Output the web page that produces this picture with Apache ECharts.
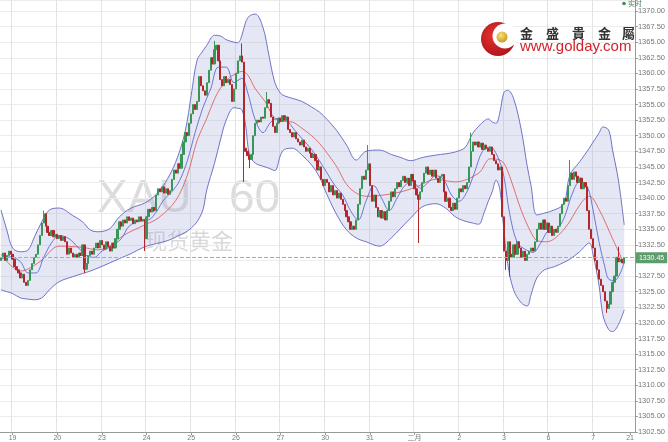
<!DOCTYPE html>
<html><head><meta charset="utf-8">
<script src="https://cdn.jsdelivr.net/npm/echarts@6/dist/echarts.min.js"></script>
<style>html,body{margin:0;padding:0;background:#fff}#c{width:668px;height:442px}</style>
</head><body><div id="c"></div>
<script>
// ---- data ----
const dayLabels = ['19','20','23','24','25','26','27','30','31','二月','2','3','6','7'];
const firstLabelSlot = 6, slotsPerDay = 23, totalSlots = 327;
const tailLabel = {slot: 324, text: '21'};
const yTicks = {min: 1302.5, max: 1371.76, step: 2.5};
const firstOpen = 1330.0;
const closes = [
1330.5,1331.2,1330.0,1330.8,1331.5,1331.0,1330.2,1329.0,1328.5,1328.0,
1327.2,1327.8,1326.5,1326.0,1326.8,1328.5,1329.5,1330.5,1331.0,1332.5,
1334.0,1336.0,1337.5,1335.5,1334.5,1334.0,1334.8,1333.8,1334.2,1333.5,
1334.0,1333.2,1333.8,1333.0,1331.0,1332.0,1331.2,1330.5,1331.0,1330.5,
1331.2,1330.8,1332.5,1328.6,1329.5,1330.8,1331.5,1331.0,1332.0,1332.8,
1332.0,1333.2,1332.5,1331.8,1333.0,1332.2,1331.5,1332.8,1332.0,1333.5,
1335.0,1336.2,1335.5,1336.5,1336.0,1337.0,1336.4,1336.8,1335.9,1336.5,
1336.2,1337.0,1336.3,1336.6,1333.5,1337.0,1338.2,1337.8,1338.5,1338.0,
1340.5,1341.5,1341.0,1341.8,1340.8,1341.5,1340.6,1341.2,1343.0,1344.5,
1344.0,1345.5,1344.8,1347.0,1349.0,1350.5,1350.0,1352.0,1353.5,1355.0,
1354.2,1355.5,1359.5,1358.0,1357.2,1356.5,1358.5,1360.5,1362.5,1361.5,
1363.8,1364.5,1362.0,1359.0,1358.0,1359.5,1358.5,1359.0,1358.2,1355.5,
1357.5,1360.0,1362.0,1362.8,1361.8,1348.0,1347.5,1346.8,1346.2,1347.0,
1350.0,1352.0,1352.5,1352.2,1353.0,1352.8,1354.5,1355.8,1355.2,1353.0,
1351.5,1350.5,1352.0,1352.8,1352.3,1353.2,1352.5,1353.0,1351.0,1350.5,
1349.8,1350.5,1349.5,1349.0,1348.5,1349.3,1348.2,1347.5,1348.0,1347.2,
1346.5,1347.0,1346.0,1344.5,1345.0,1343.0,1342.0,1343.0,1342.5,1341.0,
1342.0,1340.5,1341.2,1340.0,1340.8,1339.8,1339.0,1338.0,1337.0,1336.2,
1335.0,1335.5,1335.0,1336.5,1339.0,1341.5,1343.5,1343.0,1344.5,1345.5,
1342.0,1339.5,1340.5,1338.5,1337.0,1338.0,1336.8,1337.8,1336.5,1338.0,
1339.5,1341.0,1340.2,1341.5,1342.5,1341.8,1342.8,1343.5,1342.5,1343.2,
1342.0,1343.8,1342.8,1341.5,1340.5,1339.8,1341.0,1342.5,1344.0,1345.0,
1343.8,1344.5,1343.5,1344.5,1343.2,1342.5,1343.5,1343.8,1341.0,1339.5,
1340.0,1338.5,1338.0,1339.2,1338.2,1340.0,1341.5,1341.0,1342.0,1341.5,
1342.5,1345.0,1347.5,1349.0,1348.5,1349.0,1348.2,1348.8,1347.8,1348.5,
1348.0,1347.5,1348.2,1347.0,1346.0,1345.5,1344.5,1345.0,1337.0,1331.5,
1330.0,1333.0,1331.0,1330.5,1332.5,1331.0,1333.0,1332.0,1330.5,1331.5,
1330.0,1331.0,1331.5,1332.0,1331.5,1333.0,1335.0,1336.0,1335.0,1336.5,
1335.0,1336.0,1334.5,1335.5,1334.0,1335.0,1334.5,1335.5,1337.5,1339.0,
1340.0,1339.5,1342.0,1344.0,1343.0,1344.2,1343.5,1342.5,1343.2,1341.5,
1342.5,1341.8,1338.0,1335.0,1333.5,1332.0,1330.0,1328.5,1327.0,1326.0,
1325.0,1323.5,1322.3,1323.0,1325.0,1326.5,1327.5,1330.5,1329.8,1330.2,
1329.6,1330.45];
const wickLows = [[43,1328.0],[74,1331.5],[125,1342.6],[128,1344.8],[215,1332.8],[260,1328.5],[262,1327.4],[312,1321.6]];
const wickHighs = [[22,1338.0],[110,1365.2],[124,1364.8],[137,1357.0],[189,1348.5],[242,1350.5],[293,1346.1],[318,1332.2]];
// Bollinger upper / lower read at the same slots
const bandSlots = [0,3,6,10,14,17,21,25,30,37,42,46,50,56,61,67,74,80,86,91,95,98,101,104,106,110,113,116,120,122,124,126,128,131,135,138,141,144,146,150,155,160,164,168,173,178,183,188,195,201,206,211,217,224,229,234,239,243,246,249,251,253,255,257,259,261,264,268,271,273,276,280,285,290,293,298,303,305,308,310,313,315,318,321];
const upperBand = [1338.1,1334.9,1332.0,1331.4,1331.7,1333.6,1336.2,1338.1,1338.4,1337.2,1336.2,1334.9,1334.6,1335.1,1337.0,1338.4,1339.2,1340.6,1343.2,1346.6,1350.9,1356.5,1362.1,1363.6,1364.5,1366.1,1366.0,1365.4,1365.0,1364.9,1366.0,1368.2,1369.2,1369.5,1367.3,1362.9,1358.6,1356.8,1356.4,1356.0,1355.5,1354.6,1353.8,1352.6,1350.8,1348.5,1346.1,1347.5,1347.7,1347.0,1346.5,1346.0,1346.5,1346.9,1347.1,1347.4,1348.1,1350.4,1351.5,1352.4,1352.7,1352.2,1352.0,1353.8,1356.9,1357.3,1356.0,1350.9,1345.2,1342.0,1337.3,1337.6,1338.1,1339.1,1343.7,1345.8,1348.0,1349.0,1350.4,1351.4,1350.9,1347.7,1342.9,1335.7];
const lowerBand = [1325.3,1325.0,1324.7,1324.0,1323.8,1323.7,1324.0,1325.3,1326.6,1327.4,1327.9,1328.3,1328.8,1329.6,1330.3,1331.1,1332.2,1332.7,1333.2,1333.9,1334.5,1335.2,1336.2,1338.1,1341.3,1345.6,1349.3,1352.5,1354.5,1354.4,1354.2,1351.7,1346.9,1345.6,1345.1,1344.8,1344.4,1346.9,1347.8,1348.0,1346.9,1345.3,1343.4,1340.5,1337.3,1334.9,1333.6,1333.0,1332.3,1333.6,1335.2,1336.8,1338.6,1339.1,1338.4,1337.0,1336.3,1336.0,1335.8,1337.8,1339.5,1341.0,1342.9,1341.3,1334.9,1329.5,1325.3,1323.2,1322.7,1324.5,1327.2,1328.5,1329.0,1329.7,1330.2,1331.4,1332.8,1330.9,1326.1,1321.3,1318.9,1318.6,1319.7,1322.1];
const midLine = [[0,1331.0],[10,1328.3],[20,1329.8],[30,1332.3],[42,1332.1],[50,1331.7],[57,1332.5],[63,1334.0],[74,1335.7],[81,1336.8],[90,1339.6],[96,1343.7],[101,1349.2],[106,1352.8],[110,1355.9],[113,1357.6],[117,1359.1],[120,1359.8],[124,1360.3],[127,1359.8],[131,1357.5],[136,1355.5],[141,1352.8],[146,1352.3],[150,1352.2],[155,1351.2],[160,1350.0],[164,1348.8],[168,1347.2],[173,1345.0],[178,1342.2],[183,1340.8],[188,1340.3],[195,1340.4],[206,1341.0],[214,1341.8],[224,1343.0],[234,1342.6],[246,1344.0],[252,1346.3],[256,1346.2],[259,1345.6],[262,1343.5],[268,1338.0],[273,1334.5],[276,1333.2],[281,1333.0],[290,1335.0],[299,1339.3],[303,1340.3],[308,1338.2],[315,1333.5],[321,1329.4]];
const fastLine = [[0,1330.2],[5,1330.6],[10,1329.8],[14,1328.0],[18,1328.0],[22,1330.5],[26,1332.8],[30,1334.0],[35,1333.5],[40,1332.0],[44,1330.8],[48,1330.5],[52,1331.5],[57,1332.3],[62,1333.5],[66,1335.5],[72,1336.4],[76,1336.5],[80,1337.8],[84,1339.8],[88,1341.0],[92,1342.8],[96,1346.0],[100,1350.5],[104,1354.5],[108,1357.5],[112,1361.0],[116,1361.0],[120,1358.5],[124,1359.2],[127,1357.0],[131,1352.5],[135,1350.5],[139,1352.2],[143,1352.8],[147,1352.5],[151,1351.0],[156,1349.2],[160,1347.8],[164,1346.0],[168,1344.0],[172,1342.0],[176,1340.5],[180,1338.0],[184,1336.5],[188,1339.5],[192,1342.0],[196,1340.0],[200,1338.0],[204,1340.0],[208,1342.0],[212,1342.6],[216,1341.6],[220,1342.5],[224,1343.6],[228,1343.0],[232,1340.5],[236,1339.5],[240,1341.0],[244,1344.2],[248,1347.5],[252,1348.2],[256,1346.5],[259,1343.5],[262,1337.5],[266,1332.8],[270,1331.8],[274,1331.3],[278,1332.8],[282,1334.8],[286,1335.0],[290,1336.8],[294,1340.5],[298,1342.6],[302,1341.8],[305,1338.0],[308,1333.0],[311,1329.0],[313,1327.0],[316,1326.8],[319,1328.0],[321,1329.8]];

// ---- build ----
const labelMap = {};
dayLabels.forEach((t, k) => { labelMap[firstLabelSlot + k * slotsPerDay] = t; });
const gridSlots = new Set(Object.keys(labelMap).map(Number));
labelMap[tailLabel.slot] = tailLabel.text;
const categories = Array.from({length: totalSlots}, (_, i) => 's' + i);
const lowMap = Object.fromEntries(wickLows), highMap = Object.fromEntries(wickHighs);
const candles = closes.map((c, i) => {
  const o = i ? closes[i - 1] : firstOpen;
  let lo = Math.min(o, c), hi = Math.max(o, c);
  if (lowMap[i] !== undefined) lo = lowMap[i];
  if (highMap[i] !== undefined) hi = highMap[i];
  return [o, c, lo, hi];
});
const lastPrice = closes[closes.length - 1];
const lowerData = bandSlots.map((s, i) => [s, lowerBand[i]]);
const widthData = bandSlots.map((s, i) => [s, +(upperBand[i] - lowerBand[i]).toFixed(2)]);

const FONT = '"Liberation Sans", Arial, "Noto Sans CJK SC", sans-serif';
const chart = echarts.init(document.getElementById('c'));
chart.setOption({
  animation: false,
  backgroundColor: '#fff',
  grid: {left: 0, right: 26, top: 0, bottom: 9},
  xAxis: {
    type: 'category', data: categories, boundaryGap: true,
    axisLine: {lineStyle: {color: '#999'}},
    axisTick: {show: true, alignWithLabel: true, length: 3, lineStyle: {color: '#999'},
      interval: (i) => labelMap[i] !== undefined},
    axisLabel: {interval: (i) => labelMap[i] !== undefined, formatter: (v, i) => labelMap[i] || '',
      fontSize: 7, color: '#777', margin: 3, fontFamily: FONT},
    splitLine: {show: true, interval: (i) => gridSlots.has(i), lineStyle: {color: '#e3e3e3', width: 1}}
  },
  yAxis: {
    type: 'value', position: 'right', min: yTicks.min, max: yTicks.max, interval: yTicks.step,
    axisLine: {show: true, lineStyle: {color: '#999'}},
    axisTick: {show: true, length: 3, lineStyle: {color: '#999'}},
    axisLabel: {fontSize: 7.5, color: '#777', margin: 3, fontFamily: FONT, showMaxLabel: false,
      formatter: (v) => v.toFixed(2)},
    splitLine: {lineStyle: {color: '#ececec', width: 1}}
  },
  graphic: [
    {type: 'text', z: 0, x: 97, y: 199, style: {text: 'XAU', fill: '#dcdcdc', font: '46px ' + FONT, textVerticalAlign: 'middle'}},
    {type: 'text', z: 0, x: 229, y: 199, style: {text: '60', fill: '#dcdcdc', font: '46px ' + FONT, textVerticalAlign: 'middle'}},
    {type: 'text', z: 0, x: 145, y: 241, style: {text: '现货黄金', fill: '#d8d8d8', font: '22px "Noto Sans CJK SC", sans-serif', textVerticalAlign: 'middle'}},
    {type: 'circle', z: 20, shape: {cx: 498, cy: 39, r: 17}, style: {fill: {type: 'radial', x: 0.4, y: 0.4, r: 0.7, colorStops: [{offset: 0, color: '#e8332e'}, {offset: 1, color: '#a8121a'}]}}},
    {type: 'circle', z: 21, shape: {cx: 505, cy: 36, r: 12.5}, style: {fill: '#fff'}},
    {type: 'circle', z: 22, shape: {cx: 502, cy: 37, r: 5.5}, style: {fill: {type: 'radial', x: 0.4, y: 0.35, r: 0.7, colorStops: [{offset: 0, color: '#f6e27a'}, {offset: 1, color: '#c9971c'}]}}},
    {type: 'text', z: 20, x: 520, y: 33, style: {text: '金', fill: '#333', font: 'bold 13px "Noto Sans CJK TC", sans-serif', textVerticalAlign: 'middle'}},
    {type: 'text', z: 20, x: 546, y: 33, style: {text: '盛', fill: '#333', font: 'bold 13px "Noto Sans CJK TC", sans-serif', textVerticalAlign: 'middle'}},
    {type: 'text', z: 20, x: 572, y: 33, style: {text: '貴', fill: '#333', font: 'bold 13px "Noto Sans CJK TC", sans-serif', textVerticalAlign: 'middle'}},
    {type: 'text', z: 20, x: 598, y: 33, style: {text: '金', fill: '#333', font: 'bold 13px "Noto Sans CJK TC", sans-serif', textVerticalAlign: 'middle'}},
    {type: 'text', z: 20, x: 622, y: 33, style: {text: '屬', fill: '#333', font: 'bold 13px "Noto Sans CJK TC", sans-serif', textVerticalAlign: 'middle'}},
    {type: 'text', z: 20, x: 520, y: 47, style: {text: 'www.golday.com', fill: '#d3202a', font: '15px ' + FONT, textVerticalAlign: 'middle'}},
    {type: 'circle', z: 20, shape: {cx: 624, cy: 3.5, r: 1.8}, style: {fill: '#3f8f55'}},
    {type: 'text', z: 20, x: 628, y: 3.5, style: {text: '实时', fill: '#557a60', font: '7px "Noto Sans CJK SC", sans-serif', textVerticalAlign: 'middle'}}
  ],
  series: [
    {name: 'lower', type: 'line', stack: 'bb', data: lowerData, smooth: 0.35, symbol: 'none', z: 1,
      lineStyle: {color: '#6f74c4', width: 1}},
    {name: 'width', type: 'line', stack: 'bb', data: widthData, smooth: 0.35, symbol: 'none', z: 1,
      lineStyle: {color: '#6f74c4', width: 1}, areaStyle: {color: 'rgba(170,172,222,0.42)'}},
    {name: 'mid', type: 'line', data: midLine, smooth: 0.35, symbol: 'none', z: 2,
      lineStyle: {color: '#d9534f', width: 0.8}},
    {name: 'fast', type: 'line', data: fastLine, smooth: 0.35, symbol: 'none', z: 2,
      lineStyle: {color: '#4a5cd0', width: 0.8}},
    {name: 'XAU', type: 'candlestick', data: candles, barWidth: '90%', z: 3,
      itemStyle: {color: '#3a9558', color0: '#b3262c', borderColor: '#3a9558', borderColor0: '#b3262c', borderWidth: 1},
      markLine: {silent: true, symbol: 'none', animation: false,
        lineStyle: {color: '#aaa', type: 'dashed', width: 1},
        label: {show: true, position: 'end', distance: 1, formatter: () => lastPrice.toFixed(2),
          color: '#fff', backgroundColor: '#5d9c6c', fontSize: 7, padding: [2, 3], fontFamily: FONT},
        data: [{yAxis: lastPrice}]}}
  ]
});
</script></body></html>
